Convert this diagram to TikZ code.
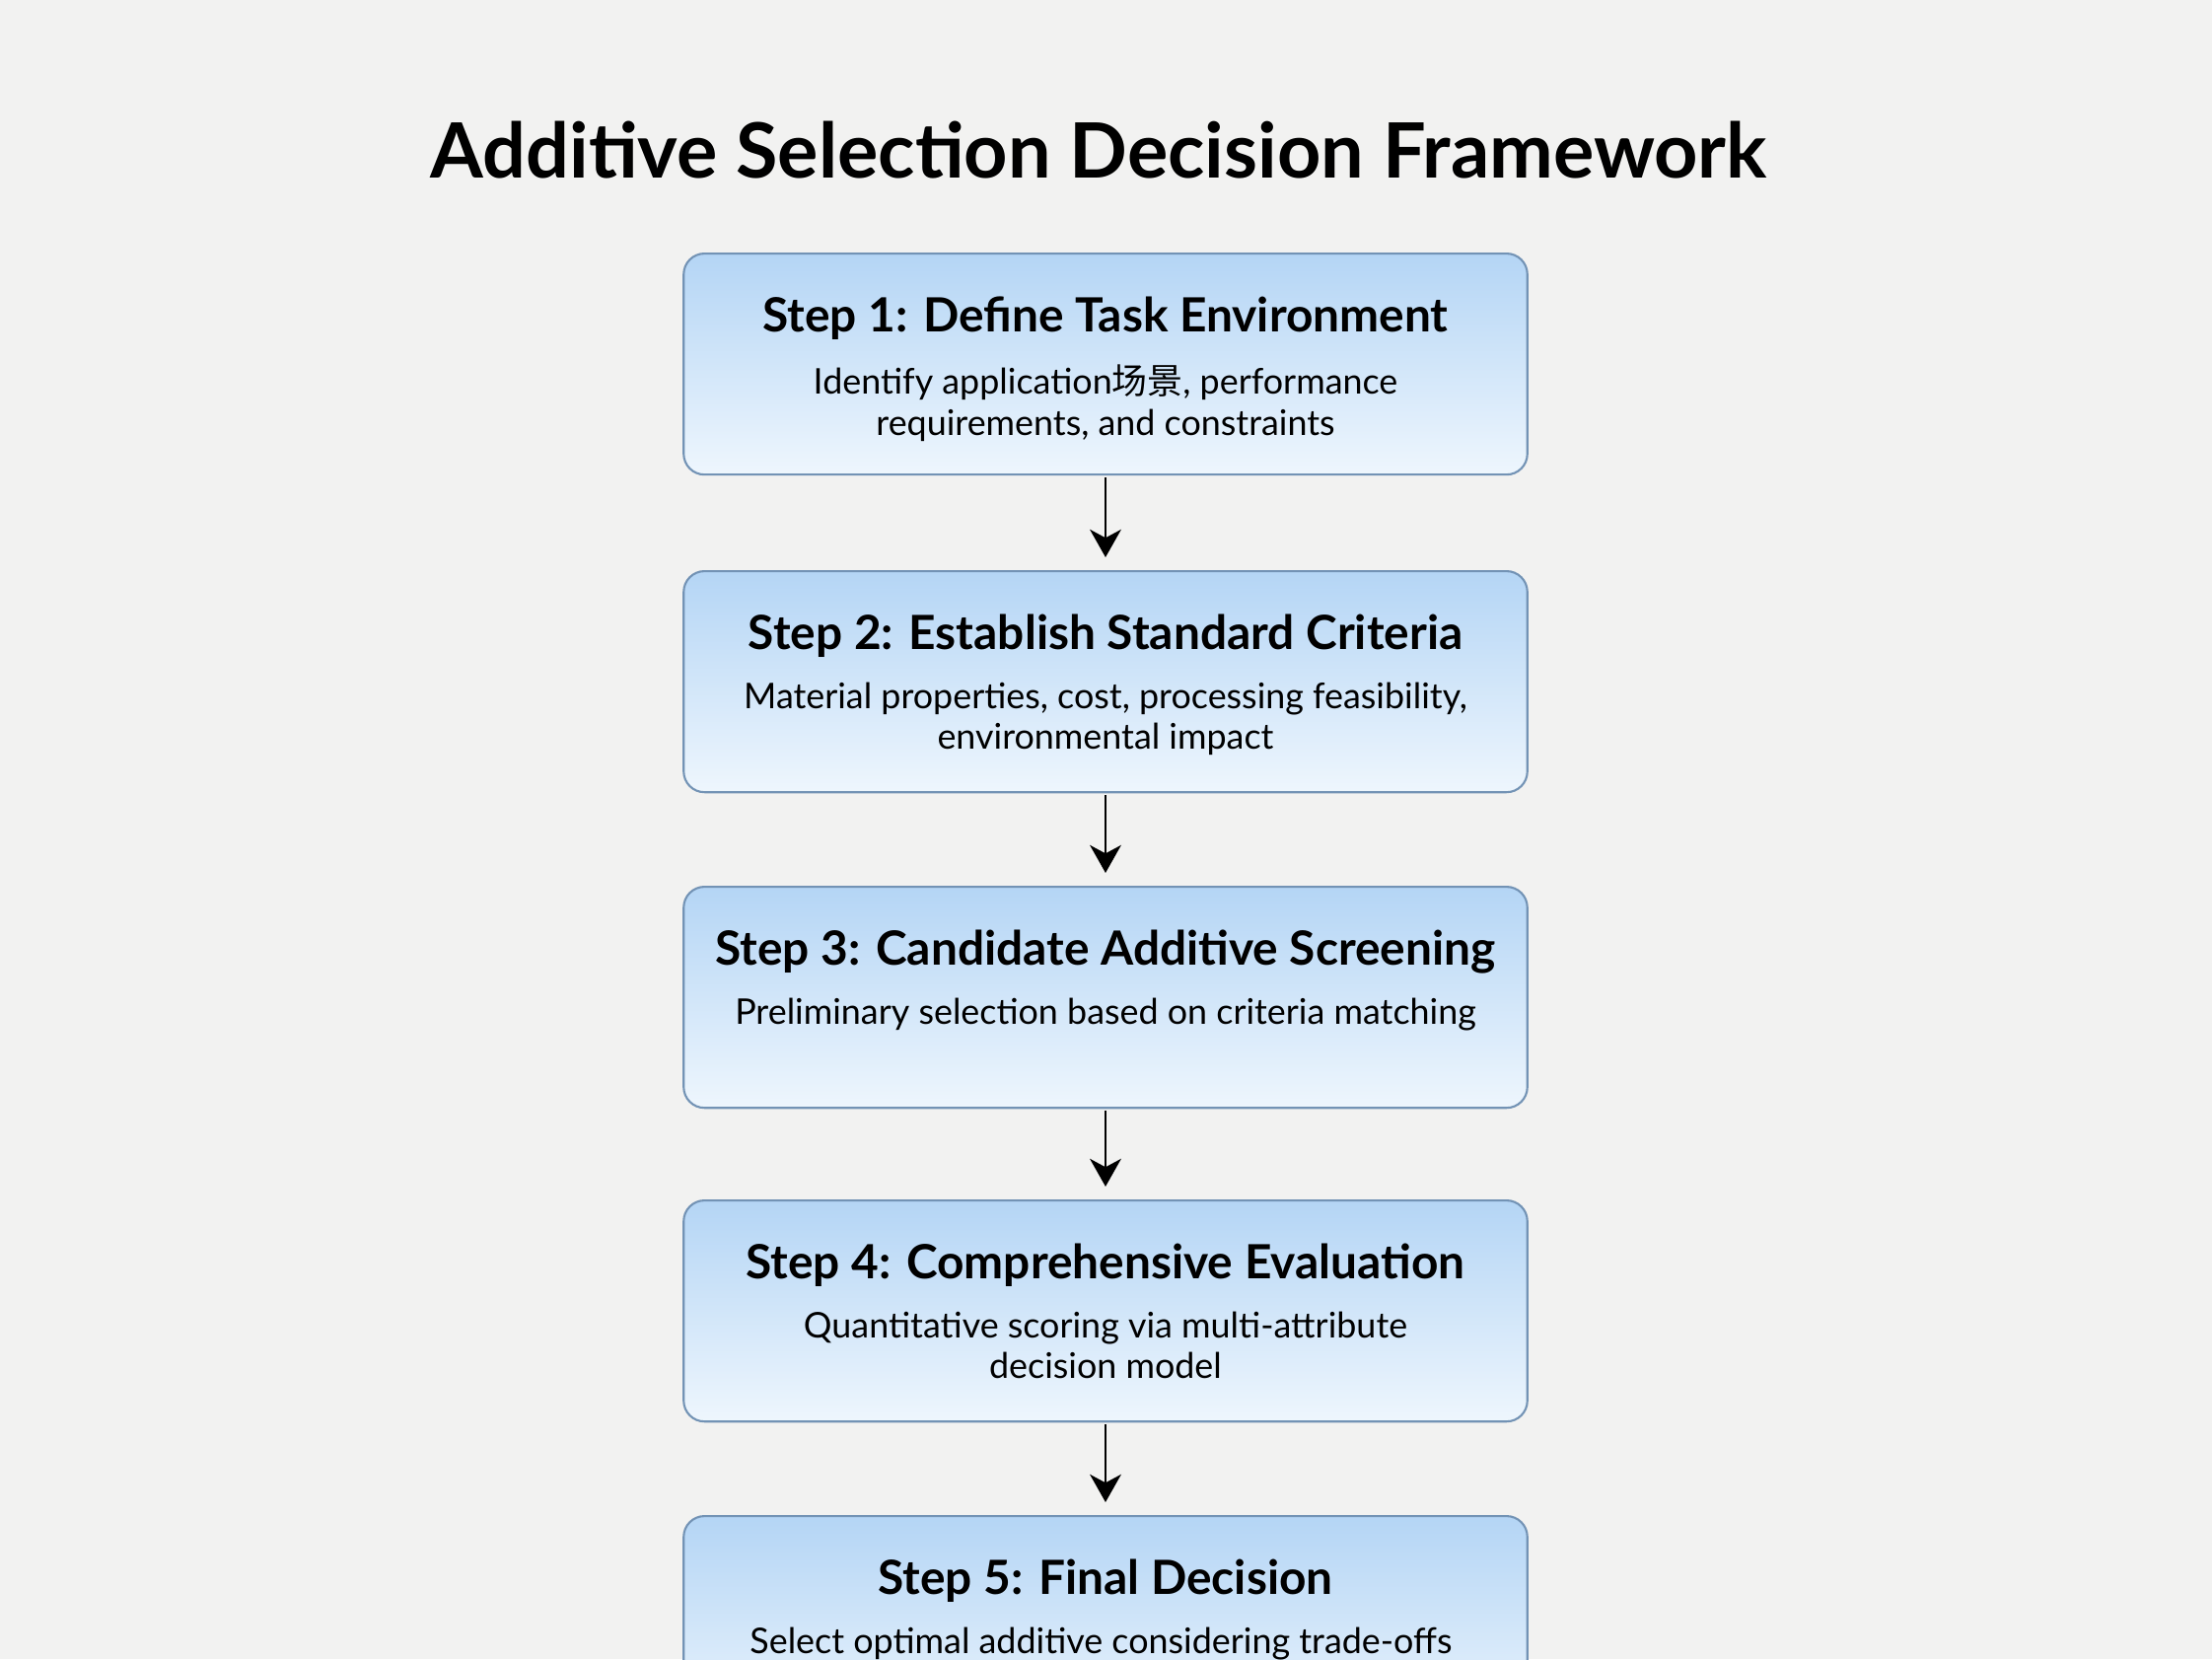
\documentclass[tikz,border=0pt]{standalone}
\usepackage{fontspec}
\setmainfont{Lato}
\newfontfamily\cjk{Noto Sans CJK SC}
\usetikzlibrary{arrows.meta}
\definecolor{pagebg}{HTML}{F2F2F1}
\definecolor{boxtop}{HTML}{B4D5F5}
\definecolor{boxbottom}{HTML}{EEF6FD}
\definecolor{boxline}{HTML}{7393B5}

\begin{document}
\begin{tikzpicture}[x=0.01cm,y=-0.01cm,
	stepbox/.style={draw=boxline, line width=0.6pt, rounded corners=6pt, top color=boxtop, bottom color=boxbottom, minimum width=8.55cm, minimum height=2.24cm, anchor=north, inner sep=0pt},
	steptitle/.style={font=\bfseries\fontsize{13.6}{16}\selectfont},
	stepdesc/.style={font=\fontsize{10.2}{11.9}\selectfont, align=center, anchor=north, inner sep=0pt},
	flow/.style={-{Stealth[length=8pt,width=9pt,inset=2.4pt]}, line width=0.8pt, shorten <=0.5pt, shorten >=3.7pt}
	]
	\useasboundingbox (0,0) rectangle (2243,1682);
	\clip (0,0) rectangle (2243,1682);
	\fill[pagebg] (0,0) rectangle (2243,1682);
	\node[font=\bfseries\fontsize{22}{26}\selectfont] (title) at (1114,152) {Additive Selection Decision Framework};
	\foreach 
	\n/\ypos/\heading/\detail
	in
	{
		1/256/{Step 1: Define Task Environment}/{Identify application{\cjk 场景}, performance\\requirements, and constraints},
		2/578/{Step 2: Establish Standard Criteria}/{Material properties, cost, processing feasibility,\\environmental impact},
		3/898/{Step 3: Candidate Additive Screening}/{Preliminary selection based on criteria matching},
		4/1216/{Step 4: Comprehensive Evaluation}/{Quantitative scoring via multi-attribute\\decision model},
		5/1536/{Step 5: Final Decision}/{Select optimal additive considering trade-offs}
	}
	{
		\node[stepbox] (step\n) at (1121,\ypos) {};
		\node[steptitle] (head\n) at (1121,\ypos+67) {\heading};
		\node[stepdesc] (text\n) at (1121,\ypos+113) {\detail};
	}
	\foreach \a/\b in {1/2,2/3,3/4,4/5}
	\draw[flow] (step\a.south) -- (step\b.north);
\end{tikzpicture}
\end{document}
